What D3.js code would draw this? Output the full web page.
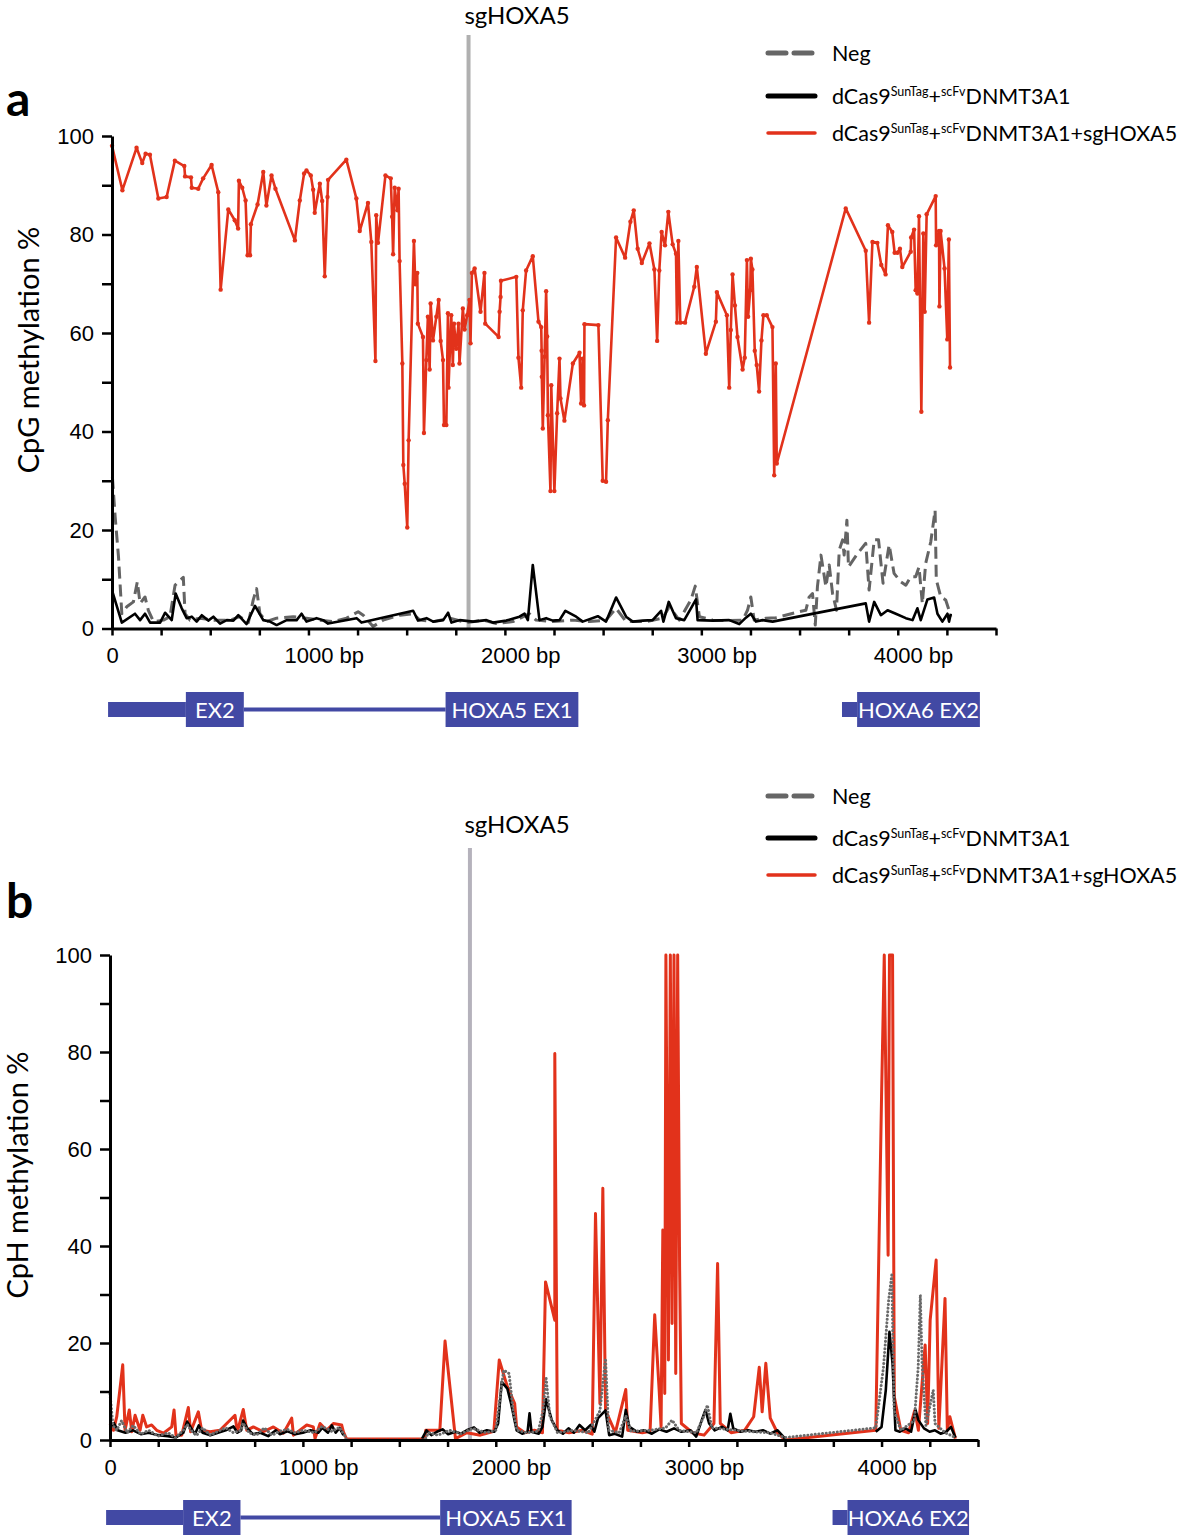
<!DOCTYPE html>
<html>
<head>
<meta charset="utf-8">
<script src="https://cdn.jsdelivr.net/npm/d3@7"></script>
<style>
  body { margin: 0; background: #fff; }
  svg { display: block; font-family: "Lato", "Open Sans", sans-serif; }
</style>
</head>
<body>
<svg width="1181" height="1535"></svg>
<script>
// ---- data (bp position, methylation %) ----
var cpgNeg = [[2,30.8],[16,22.7],[33,14.6],[50,3],[75,4.4],[109,5.4],[129,9.5],[143,5.1],[168,6.4],[185,3.7],[211,1.4],[262,1.7],[295,2.4],[321,8.8],[363,10.4],[372,3],[397,1.7],[448,2.1],[516,1.7],[601,1.7],[651,2.4],[694,1.2],[719,5.8],[736,8.1],[753,3],[787,1.4],[838,2.1],[923,2.4],[990,2.1],[1058,1.7],[1126,1.4],[1194,2.1],[1253,3.4],[1279,2.7],[1329,0.4],[1380,1.7],[1465,2.7],[1533,3],[1567,1.7],[1635,1.4],[1719,2.1],[1804,1.2],[1889,1.7],[1956,1],[2041,1.4],[2125,3],[2159,1.7],[2244,1.4],[2346,1.7],[2430,1.4],[2515,1.7],[2566,4.1],[2617,1.4],[2718,1.4],[2803,2.1],[2837,4.4],[2888,1.7],[2947,5.8],[2969,8.6],[2990,2.4],[3058,1.7],[3125,1.6],[3210,1.7],[3235,3.7],[3252,6.4],[3269,1.7],[3329,2.1],[3380,2.2],[3498,3.4],[3532,3.7],[3549,6.4],[3566,7.1],[3580,0.7],[3591,8.5],[3609,14.9],[3634,8.5],[3651,12.9],[3668,7.1],[3688,3.7],[3702,15.9],[3719,18],[3727,14.9],[3741,22],[3749,12.5],[3795,15.2],[3837,17.3],[3854,7.8],[3880,18],[3902,18],[3925,9.2],[3956,17],[3981,11.2],[4015,9.5],[4041,8.8],[4066,10.5],[4091,10.5],[4108,12.5],[4125,5.1],[4142,13.2],[4168,17.6],[4190,24],[4196,9.9],[4219,6.4],[4244,5.8],[4261,3.7],[4270,2.4]];

var cpgDnmt = [[2,7.5],[50,1.2],[117,3],[143,1.7],[168,3],[194,1.2],[245,1.2],[270,3.2],[304,1.7],[324,7.1],[355,4.1],[380,2.1],[406,2.4],[431,1.4],[457,2.7],[490,1.6],[516,2.4],[550,1],[584,1.7],[618,1.6],[643,2.7],[685,0.9],[728,4.6],[770,1.7],[804,1.4],[838,0.7],[889,1.7],[940,1.7],[965,3],[990,1.4],[1041,2.1],[1075,1.7],[1100,1],[1245,2.1],[1270,1.2],[1533,3.6],[1558,1.6],[1601,2.1],[1635,1.4],[1686,1.7],[1711,3.2],[1728,1.2],[1770,1.7],[1838,1.4],[1906,1.7],[1939,1.2],[2007,1.6],[2074,2.4],[2100,3],[2117,1.7],[2142,12.9],[2176,1.7],[2210,2.1],[2244,1.6],[2278,1.7],[2308,3.6],[2363,2.4],[2396,1.4],[2473,2.5],[2515,1.4],[2566,6.3],[2617,2.4],[2651,1.4],[2702,1.6],[2752,1.7],[2795,3.6],[2807,1.4],[2834,5.4],[2871,2.1],[2913,1.7],[2973,5.9],[2981,1.7],[3058,1.6],[3142,1.7],[3193,0.9],[3227,2.2],[3252,3],[3278,1.4],[3312,1.7],[3363,1.4],[3837,5.1],[3854,1.4],[3880,5.4],[3914,2.7],[3948,3.7],[3990,3],[4041,2.1],[4075,1.7],[4100,4.1],[4117,1.7],[4151,5.9],[4185,6.3],[4202,3],[4227,1.4],[4253,3],[4261,1.4],[4270,3]];

var cpgTreated = [[0,98],[53,89],[125,97.6],[154,94.5],[171,96.4],[193,96.2],[236,87.3],[278,87.6],[320,95],[368,93.9],[372,91.8],[402,91.6],[406,89.5],[439,89.3],[464,91.4],[507,94.1],[541,88.6],[553,68.8],[592,85.1],[625,82.9],[642,81.2],[646,90.9],[663,89.5],[680,86.9],[690,75.8],[703,75.8],[707,82.1],[741,86.1],[770,92.7],[786,85.9],[812,92],[832,89.3],[931,78.8],[956,86.9],[978,92.4],[990,93],[1012,92],[1024,89.1],[1032,84.4],[1058,90.3],[1070,86.8],[1083,71.5],[1097,87.6],[1100,91.1],[1193,95.2],[1244,87.3],[1261,80.7],[1303,86.4],[1320,78.5],[1341,54.3],[1345,83.9],[1354,78.3],[1392,92],[1419,91.4],[1426,83.6],[1431,76],[1439,89.5],[1453,84.9],[1459,89.3],[1464,74.6],[1478,53.8],[1483,33.2],[1490,29.4],[1503,20.5],[1510,38.2],[1537,78.7],[1544,69.9],[1554,72.2],[1557,61.9],[1583,59.2],[1588,39.7],[1600,54.5],[1608,63.3],[1617,52.6],[1622,66],[1634,58.5],[1651,63.3],[1663,66.7],[1673,58.4],[1685,54.5],[1690,41.3],[1702,41.3],[1710,64],[1713,48.9],[1727,63.6],[1735,53.5],[1741,61.9],[1752,56.8],[1764,61.9],[1769,53.8],[1786,65],[1795,60.7],[1808,63.6],[1820,66.7],[1825,57.9],[1832,72.2],[1846,73.1],[1876,64.3],[1896,72.2],[1900,61.9],[1968,59.2],[1973,64.3],[1978,67.3],[1980,70.6],[2058,71.4],[2069,55],[2083,48.9],[2091,64.6],[2108,72.7],[2142,75.6],[2171,62.3],[2185,61.2],[2187,56.4],[2188,51.1],[2193,40.6],[2202,55.2],[2210,68.5],[2215,59.3],[2219,43.3],[2232,27.9],[2236,49.4],[2252,27.9],[2266,43.7],[2278,54.8],[2283,46.7],[2303,42.2],[2346,53.8],[2380,56],[2388,45.7],[2396,54.8],[2403,45.3],[2405,61.8],[2476,61.6],[2498,30],[2515,29.8],[2524,42.3],[2566,79.4],[2612,75.3],[2639,82.6],[2656,84.9],[2676,77.1],[2697,74.2],[2736,78.2],[2761,72.9],[2775,58.4],[2786,72.7],[2798,80.5],[2815,77.8],[2832,84.6],[2854,78],[2871,76.1],[2876,62.1],[2883,78.7],[2893,62.1],[2917,62.1],[2964,69.4],[2977,73.4],[3023,55.8],[3074,62.3],[3079,68.3],[3130,63.6],[3142,48.9],[3150,60.6],[3159,71.9],[3171,65.6],[3184,59.2],[3210,52.6],[3221,55],[3232,74.8],[3238,63.3],[3249,68.7],[3252,75.1],[3260,72.9],[3272,56.4],[3282,53.5],[3294,48.1],[3306,58.5],[3316,63.6],[3333,63.6],[3362,61.2],[3371,31.1],[3379,53.8],[3384,33.5],[3735,85.3],[3837,76.7],[3854,62.1],[3871,78.5],[3896,78.3],[3916,73.8],[3938,71.9],[3950,81.9],[3972,80.5],[3984,76.3],[3998,76.3],[4011,77.1],[4023,73.4],[4066,76.5],[4068,79.4],[4083,81],[4091,68.7],[4100,68],[4108,83.7],[4120,44],[4130,80.2],[4137,64.3],[4147,84.1],[4193,87.8],[4195,77.8],[4210,80.7],[4212,65.4],[4218,80.7],[4238,73.1],[4252,58.7],[4260,79],[4266,53]];

var cphNeg = [[0,9.5],[15,3],[35,2],[60,4],[90,1.5],[120,3],[160,1.2],[200,2],[250,0.8],[300,1.5],[340,0.5],[380,2],[400,3.2],[420,2],[450,1],[480,2.5],[520,1],[560,1.8],[600,2.5],[640,1.5],[680,2],[690,3.5],[720,1.5],[760,1],[800,2.5],[840,1],[880,1.8],[920,2.2],[960,1.5],[1000,2],[1060,1.5],[1100,2.8],[1150,1.8],[1190,2.6],[1215,1],[1227,0],[1633,0],[1650,1.5],[1700,1],[1760,2],[1820,1.3],[1880,2.4],[1950,1.5],[2000,2],[2020,8],[2041,14.4],[2069,13.7],[2090,6],[2110,2],[2160,1.5],[2220,1.8],[2245,6],[2261,12.7],[2280,5],[2320,1.5],[2400,2],[2480,1.5],[2540,6],[2569,16.8],[2585,2],[2640,1.5],[2674,5],[2700,1.8],[2800,2],[2880,2.5],[2914,4.1],[2950,2],[3040,1.5],[3080,5],[3097,7.2],[3120,2.5],[3200,2.2],[3300,1.8],[3420,1.5],[3500,0.5],[3970,2.5],[4010,15],[4037,28.9],[4053,34],[4065,6],[4100,2],[4170,4],[4190,15],[4201,29.9],[4210,15.8],[4230,3],[4268,10.3],[4277,3.4],[4330,1.5],[4383,0.5]];

// null marks a stretch with no reads for this sample
var cphDnmt = [[0,2.5],[20,3.5],[40,2],[80,1.5],[120,2],[160,1.2],[200,1.5],[250,1],[300,0.8],[340,0.5],[380,1.5],[400,3.8],[420,2.5],[440,1.2],[460,3],[480,1.5],[520,1],[560,1.5],[600,2],[640,2.8],[660,1.5],[680,2],[690,4],[710,2.5],[740,1.2],[780,1.5],[820,0.8],[860,2],[880,1.2],[920,1.8],[960,1.2],[1000,1.5],[1040,2],[1080,1.5],[1100,2.5],[1130,1.5],[1150,3],[1170,1.5],[1190,2.5],[1210,1],[1400,null],[1618,0.3],[1641,2],[1666,1],[1695,1.7],[1724,2.2],[1753,1.2],[1791,1.7],[1820,1.3],[1849,2],[1887,2.6],[1916,1.5],[1954,2],[1993,1.7],[2012,3.4],[2031,12],[2060,10.6],[2079,7.6],[2108,2],[2137,1.3],[2165,1.7],[2175,5.5],[2185,1.7],[2223,1.3],[2242,2.7],[2261,8.4],[2290,4.1],[2319,2],[2348,1.3],[2377,2.4],[2405,1.5],[2434,3.1],[2463,2],[2492,3.1],[2511,1.7],[2530,4.5],[2569,6.1],[2588,1],[2617,1.3],[2655,0.7],[2674,6.2],[2693,2.7],[2732,1.7],[2770,2],[2809,1.3],[2847,2.2],[2885,1.7],[2924,2.4],[2962,1.7],[3010,2],[3039,0.7],[3068,4.1],[3087,6.2],[3106,3.4],[3135,2],[3173,2.7],[3202,2],[3216,5.4],[3231,2.4],[3269,1.7],[3308,2],[3346,1.7],[3385,2],[3423,1.3],[3461,2],[3500,0.3],[3700,null],[3970,1.7],[4000,2.7],[4022,10.3],[4041,22.3],[4057,15.8],[4072,2],[4095,1.7],[4124,2.4],[4153,1.7],[4176,6.2],[4191,4.1],[4220,2.4],[4249,1.7],[4277,2],[4306,1.3],[4335,1.7],[4360,2.7],[4383,0.5]];

var cphTreated = [[0,3.4],[18,2],[35,4.8],[66,15.5],[78,2],[100,6.2],[113,1.7],[130,5.1],[156,2],[170,5.1],[190,2.7],[216,3.1],[242,2],[277,1.4],[320,2.7],[332,6.2],[342,1],[372,1],[406,6.7],[418,1.7],[458,5.8],[475,2],[519,1.7],[570,2],[648,5.1],[660,1.7],[691,6.3],[709,2],[743,2.7],[795,1.7],[847,2.7],[899,1.4],[942,4.5],[951,1],[1020,3.1],[1054,2.7],[1063,0.3],[1089,3.4],[1123,2],[1158,3.4],[1201,3.1],[1210,1.7],[1227,0.2],[1633,0.2],[1637,2],[1710,2],[1737,20.4],[1791,0.3],[1850,1.5],[1920,1],[1990,1.8],[2018,16.5],[2060,11],[2098,7.5],[2108,2.7],[2150,1.5],[2200,2],[2242,1.5],[2258,32.6],[2306,24.7],[2306,79.7],[2319,2],[2380,1.5],[2450,2],[2500,1.2],[2517,46.7],[2540,7.5],[2555,51.9],[2569,6.1],[2620,1.5],[2674,10.4],[2684,2],[2760,1.5],[2800,1.8],[2824,25.8],[2847,10.3],[2857,2.7],[2866,43.3],[2876,9.6],[2882,100],[2895,16.5],[2905,100],[2914,24],[2924,100],[2933,13.7],[2943,100],[2953,35.7],[2962,3.4],[3020,1.5],[3080,1],[3131,3.4],[3150,36.4],[3164,3.4],[3220,1.5],[3290,2],[3337,4.8],[3366,15],[3381,5.8],[3400,15.8],[3423,4.5],[3460,1.5],[3500,0],[3970,2],[4000,70.8],[4014,100],[4034,38.1],[4041,100],[4057,100],[4066,8.9],[4100,2],[4140,1.5],[4172,6.1],[4191,2],[4226,19.6],[4239,3.4],[4252,24.7],[4283,37.1],[4297,2.4],[4329,29.2],[4341,2],[4354,4.8],[4383,0.3]];

var legendNames = ["Neg", "dCas9", "dCas9"];
var yTickValues = d3.range(0, 101, 10);
var xTickValues = d3.range(0, 4501, 250);
var geneParts = [
  {start: -20, end: 376, kind: "utr"},
  {start: 376, end: 671, kind: "exon", label: "EX2"},
  {start: 671, end: 1698, kind: "intron"},
  {start: 1698, end: 2374, kind: "exon", label: "HOXA5 EX1"},
  {start: 3716, end: 3793, kind: "utr"},
  {start: 3793, end: 4418, kind: "exon", label: "HOXA6 EX2"}
];

var RED = "#e2321b", GENE = "#4249a4";
var svg = d3.select("svg");

var panels = [
  {letter: "a", letterY: 116, x: d3.scaleLinear().domain([0, 4500]).range([112, 996]),
   y: d3.scaleLinear().domain([0, 100]).range([628.5, 136]),
   gx: d3.scaleLinear().domain([0, 4500]).range([112, 996]),
   ylabel: "CpG methylation %", ylabelX: 39, ylabelY: 350, sg: 1815, sgTop: 35, sgLabelY: 24, sgColor: "#b0b0b0",
   legendY: [53, 96, 133], geneY: 709.5, redWidth: 2.6,
   neg: cpgNeg, dnmt: cpgDnmt, treated: cpgTreated, markers: true},
  {letter: "b", letterY: 918, x: d3.scaleLinear().domain([0, 4500]).range([110, 978]),
   y: d3.scaleLinear().domain([0, 100]).range([1440, 955]),
   gx: d3.scaleLinear().domain([0, 4500]).range([110, 985]),
   ylabel: "CpH methylation %", ylabelX: 28, ylabelY: 1175, sg: 1866, sgTop: 848, sgLabelY: 833, sgColor: "#b5b2bc",
   legendY: [796, 838, 875], geneY: 1517.5, redWidth: 3,
   neg: cphNeg, dnmt: cphDnmt, treated: cphTreated, markers: false}
];

function legendLabel(t, withSg) {
  t.append("tspan").text("dCas9");
  t.append("tspan").attr("font-size", 12.5).attr("dy", -8).text("SunTag");
  t.append("tspan").attr("dy", 8).text("+");
  t.append("tspan").attr("font-size", 12.5).attr("dy", -8).text("scFv");
  t.append("tspan").attr("dy", 8).text("DNMT3A1" + (withSg ? "+sgHOXA5" : ""));
}

panels.forEach(function(p) {
  var g = svg.append("g");
  var x0 = p.x.range()[0];

  // sgRNA position
  g.append("line")
    .attr("x1", p.x(p.sg)).attr("x2", p.x(p.sg))
    .attr("y1", p.sgTop).attr("y2", p.y(0))
    .attr("stroke", p.sgColor).attr("stroke-width", 4);
  g.append("text")
    .attr("x", 517).attr("y", p.sgLabelY)
    .attr("text-anchor", "middle").attr("font-size", 24)
    .text("sgHOXA5");

  // series
  var line = d3.line()
    .defined(function(d) { return d[1] != null; })
    .x(function(d) { return p.x(d[0]); })
    .y(function(d) { return p.y(d[1]); });
  var negStyle = p.markers
    ? {data: p.neg, color: "#646464", width: 3, dash: "12,6", cap: "butt"}
    : {data: p.neg, color: "#6a6a6a", width: 3, dash: "0.1,3.6", cap: "round"};
  var dnmtStyle = {data: p.dnmt, color: "#000", width: 2.6, dash: null, cap: "butt"};
  var redStyle = {data: p.treated, color: RED, width: p.redWidth, dash: null, cap: "butt"};
  var series = p.markers ? [negStyle, dnmtStyle, redStyle] : [redStyle, dnmtStyle, negStyle];
  series.forEach(function(s) {
    g.append("path").datum(s.data)
      .attr("d", line).attr("fill", "none")
      .attr("stroke", s.color).attr("stroke-width", s.width)
      .attr("stroke-linejoin", "round").attr("stroke-linecap", s.cap)
      .attr("stroke-dasharray", s.dash);
  });
  if (p.markers) {
    g.selectAll(".mk").data(p.treated).enter().append("circle")
      .attr("cx", function(d) { return p.x(d[0]); })
      .attr("cy", function(d) { return p.y(d[1]); })
      .attr("r", 2.2).attr("fill", RED);
  }

  // axes
  var yAxis = d3.axisLeft(p.y).tickValues(yTickValues).tickSize(10).tickSizeOuter(0).tickPadding(8)
    .tickFormat(function(d) { return d % 20 === 0 ? d : ""; });
  var ya = g.append("g").attr("transform", "translate(" + x0 + ",0)").call(yAxis);
  ya.select(".domain").attr("stroke-width", 3);
  ya.selectAll(".tick line").attr("stroke-width", 2.5);
  ya.selectAll("text").attr("font-size", 22).attr("fill", "#000").attr("font-family", null);

  var xAxis = d3.axisBottom(p.x).tickValues(xTickValues).tickSize(7).tickSizeOuter(0).tickPadding(12)
    .tickFormat(function(d) { return d % 1000 === 0 ? d : ""; });
  var xa = g.append("g").attr("transform", "translate(0," + p.y(0) + ")").call(xAxis);
  xa.select(".domain").attr("stroke-width", 3);
  xa.selectAll(".tick line").attr("stroke-width", 2.5);
  xa.selectAll("text").attr("font-size", 22).attr("fill", "#000").attr("font-family", null);
  xa.selectAll(".tick text").each(function(d) {
    if (d > 0 && d % 1000 === 0) {
      var t = d3.select(this);
      var w = this.getComputedTextLength();
      t.attr("text-anchor", "start").attr("x", -w / 2);
      t.append("tspan").text(" bp");
    }
  });

  g.append("text")
    .attr("transform", "translate(" + p.ylabelX + "," + p.ylabelY + ") rotate(-90)")
    .attr("text-anchor", "middle").attr("font-size", 29)
    .text(p.ylabel);

  g.append("text")
    .attr("x", 6).attr("y", p.letterY)
    .attr("font-size", 48).attr("font-weight", "bold")
    .text(p.letter);

  // legend
  var lg = g.append("g");
  p.legendY.forEach(function(ly, i) {
    var color = i === 0 ? "#666" : (i === 1 ? "#000" : RED);
    lg.append("line")
      .attr("x1", 768).attr("x2", 815).attr("y1", ly).attr("y2", ly)
      .attr("stroke", color).attr("stroke-width", i === 2 ? 3.5 : 5)
      .attr("stroke-linecap", "round")
      .attr("stroke-dasharray", i === 0 ? "18,8" : null);
    var t = lg.append("text").attr("x", 832).attr("y", ly + 8).attr("font-size", 21.5);
    if (i === 0) t.text(legendNames[0]);
    else legendLabel(t, i === 2);
  });

  // gene track
  var gt = g.append("g");
  geneParts.forEach(function(part) {
    var xa0 = p.gx(part.start), xa1 = p.gx(part.end);
    var h = part.kind === "exon" ? 35 : (part.kind === "utr" ? 15 : 4);
    gt.append("rect")
      .attr("x", xa0).attr("width", xa1 - xa0)
      .attr("y", p.geneY - h / 2).attr("height", h)
      .attr("fill", GENE);
    if (part.label) {
      gt.append("text")
        .attr("x", (xa0 + xa1) / 2).attr("y", p.geneY + 8)
        .attr("text-anchor", "middle").attr("font-size", 22)
        .attr("fill", "#fff").text(part.label);
    }
  });
});
</script>
</body>
</html>
